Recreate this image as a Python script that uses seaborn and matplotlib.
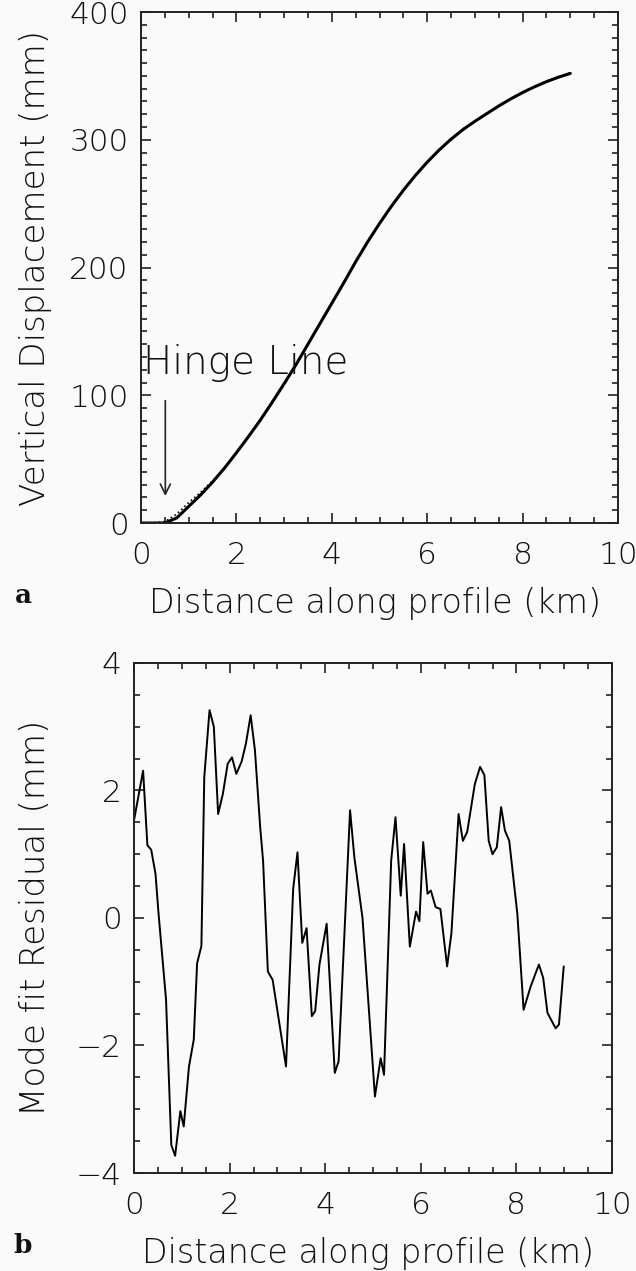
import numpy as np
import pandas as pd
import matplotlib
matplotlib.use("Agg")
import matplotlib.pyplot as plt
from matplotlib.ticker import MultipleLocator
import seaborn as sns

# ---- panel a: vertical displacement along the profile ----
dist_a = [0.0, 0.25, 0.5, 0.75, 1.0, 1.25, 1.5, 1.75, 2.0, 2.25, 2.5, 2.75,
          3.0, 3.25, 3.5, 3.75, 4.0, 4.25, 4.5, 4.75, 5.0, 5.25, 5.5, 5.75,
          6.0, 6.25, 6.5, 6.75, 7.0, 7.25, 7.5, 7.75, 8.0, 8.25, 8.5, 8.75, 9.0]
model_disp = [0, 0, 0, 4, 13, 22, 32, 43, 55, 67.5, 80.5, 94.5,
              109, 124, 140, 156, 172, 188, 204.5, 220, 234.5, 248, 260.5, 272,
              282.5, 292, 300.5, 308, 314.5, 320.5, 326.5, 332, 337, 341.5, 345.5, 349, 352]
data_disp = [0, 0, 1, 7, 16, 24, 33, 43, 55, 67.5, 80.5, 94.5,
             109, 124, 140, 156, 172, 188, 204.5, 220, 234.5, 248, 260.5, 272,
             282.5, 292, 300.5, 308.5, 314.5, 321, 326.5, 332, 337.5, 341.5, 346, 349, 352.5]

# ---- panel b: residual of the mode fit ----
dist_b = [0.0, 0.19, 0.28, 0.36, 0.45, 0.51, 0.67, 0.78, 0.86, 0.97, 1.04,
          1.15, 1.25, 1.32, 1.41, 1.47, 1.58, 1.67, 1.76, 1.86, 1.96, 2.05,
          2.14, 2.25, 2.34, 2.44, 2.53, 2.64, 2.70, 2.80, 2.90, 3.18, 3.33,
          3.42, 3.52, 3.61, 3.72, 3.79, 3.88, 4.03, 4.20, 4.28, 4.52, 4.61,
          4.78, 5.04, 5.16, 5.23, 5.38, 5.47, 5.58, 5.65, 5.77, 5.90, 5.97,
          6.05, 6.14, 6.21, 6.31, 6.41, 6.55, 6.64, 6.79, 6.88, 6.97, 7.13,
          7.24, 7.33, 7.42, 7.50, 7.59, 7.68, 7.76, 7.85, 8.02, 8.15, 8.30,
          8.47, 8.56, 8.65, 8.82, 8.89, 8.99]
residual = [1.53, 2.31, 1.14, 1.07, 0.69, 0.1, -1.28, -3.56, -3.73, -3.03,
            -3.27, -2.33, -1.91, -0.71, -0.44, 2.21, 3.26, 3.0, 1.63, 1.95,
            2.42, 2.52, 2.26, 2.45, 2.73, 3.18, 2.63, 1.42, 0.9, -0.84, -0.97,
            -2.33, 0.46, 1.03, -0.39, -0.16, -1.54, -1.46, -0.73, -0.09, -2.43,
            -2.25, 1.69, 0.95, 0.0, -2.8, -2.2, -2.46, 0.9, 1.58, 0.35, 1.16,
            -0.45, 0.1, -0.05, 1.19, 0.38, 0.43, 0.17, 0.14, -0.76, -0.24,
            1.63, 1.21, 1.35, 2.1, 2.37, 2.24, 1.21, 1.0, 1.11, 1.74, 1.37,
            1.21, 0.06, -1.44, -1.07, -0.73, -0.94, -1.49, -1.73, -1.67, -0.76]

df_a = pd.DataFrame({"dist": dist_a, "model": model_disp, "data": data_disp})
df_b = pd.DataFrame({"dist": dist_b, "resid": residual})

sns.set_theme(style="ticks")
plt.rcParams["font.family"] = ["DejaVu Sans"]
bg = "#f9faf9"
ink = "#111111"
plt.rcParams.update({"axes.edgecolor": "#222222", "xtick.color": "#222222",
                     "ytick.color": "#222222", "xtick.labelcolor": ink,
                     "ytick.labelcolor": ink, "text.color": ink,
                     "axes.labelcolor": ink, "font.weight": "light",
                     "axes.labelweight": "light"})

fig = plt.figure(figsize=(6.36, 12.71), dpi=100, facecolor=bg)
ax1 = fig.add_axes([0.2217, 0.5885, 0.75, 0.402])
ax2 = fig.add_axes([0.2107, 0.0771, 0.7516, 0.4013])

sns.lineplot(data=df_a, x="dist", y="model", ax=ax1, color="black", lw=2.2)
sns.lineplot(data=df_a, x="dist", y="data", ax=ax1, color="black", lw=1.2, linestyle=":")
sns.lineplot(data=df_b, x="dist", y="resid", ax=ax2, color="black", lw=1.4)

ax1.set_ylim(0, 400)
ax2.set_ylim(-4, 4)
ax1.yaxis.set_major_locator(MultipleLocator(100))
ax1.yaxis.set_minor_locator(MultipleLocator(10))
ax2.yaxis.set_major_locator(MultipleLocator(2))
ax2.yaxis.set_minor_locator(MultipleLocator(0.5))

for ax in (ax1, ax2):
    ax.set_facecolor(bg)
    ax.set_xlim(0, 10)
    ax.xaxis.set_major_locator(MultipleLocator(2))
    ax.xaxis.set_minor_locator(MultipleLocator(0.5))
    ax.tick_params(which="both", direction="in", top=True, right=True, width=1.2)
    ax.tick_params(which="major", length=7, labelsize=22.5)
    ax.tick_params(which="minor", length=4)
    ax.tick_params(axis="x", which="major", pad=13)
    ax.tick_params(axis="y", which="major", pad=9)
    for s in ax.spines.values():
        s.set_linewidth(1.4)
    ax.set_xlabel("Distance along profile (km)", fontsize=24)

ax1.set_ylabel("Vertical Displacement (mm)", fontsize=24.5)
ax2.set_ylabel("Mode fit Residual (mm)", fontsize=24.5)
ax1.yaxis.set_label_coords(-0.187, 0.5)
ax2.yaxis.set_label_coords(-0.172, 0.5)
ax1.xaxis.set_label_coords(0.49, -0.125)
ax2.xaxis.set_label_coords(0.49, -0.125)

ax1.text(0.04, 117, "Hinge Line", fontsize=28, ha="left", va="baseline")
ax1.annotate("", xy=(0.51, 19), xytext=(0.51, 98),
             arrowprops=dict(arrowstyle="->", color="#222222", lw=1.2, mutation_scale=18))

fig.text(23 / 636, 1 - 603 / 1271, "a", fontsize=19, fontweight="bold",
         family="DejaVu Serif", color="#111111", ha="center", va="baseline")
fig.text(23 / 636, 1 - 1253 / 1271, "b", fontsize=19, fontweight="bold",
         family="DejaVu Serif", color="#111111", ha="center", va="baseline")

fig.savefig("out.png", dpi=100, facecolor=bg)
